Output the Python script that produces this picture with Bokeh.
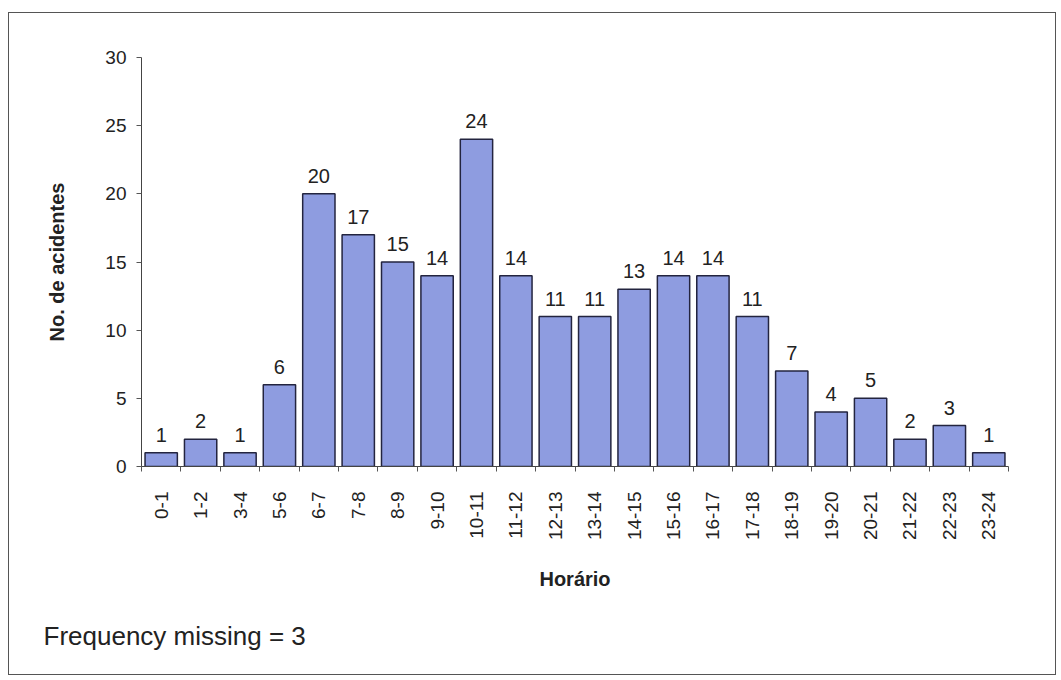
from bokeh.plotting import figure
from bokeh.models import ColumnDataSource, FixedTicker, Range1d, Title
from bokeh.embed import file_html
from bokeh.resources import INLINE
from bokeh.core.properties import value
import math

horarios = ["0-1", "1-2", "3-4", "5-6", "6-7", "7-8", "8-9", "9-10", "10-11", "11-12",
            "12-13", "13-14", "14-15", "15-16", "16-17", "17-18", "18-19", "19-20",
            "20-21", "21-22", "22-23", "23-24"]
acidentes = [1, 2, 1, 6, 20, 17, 15, 14, 24, 14, 11, 11, 13, 14, 14, 11, 7, 4, 5, 2, 3, 1]
y_ticks = [0, 5, 10, 15, 20, 25, 30]
x_title = "Horário"
y_title = "No. de acidentes"
note = "Frequency missing = 3"

n = len(horarios)
xs = [i + 0.5 for i in range(n)]
src = ColumnDataSource(dict(x=xs, top=acidentes, lab=[str(v) for v in acidentes]))

FONT = "Liberation Sans"
p = figure(width=1048, height=663, output_backend="svg", toolbar_location=None,
           x_range=Range1d(0, n), y_range=Range1d(0, 30),
           min_border_left=132, min_border_right=49, min_border_top=44, min_border_bottom=205)
p.styles = {"border": "1.5px solid #555555", "margin-left": "8px", "margin-top": "12px"}
p.outline_line_color = None
p.xgrid.visible = False
p.ygrid.visible = False

p.vbar(x="x", top="top", width=0.82, bottom=0, source=src,
       fill_color="#8e9ce0", line_color="#23243f", line_width=1.5)
p.text(x="x", y="top", text="lab", source=src, text_align="center", text_baseline="bottom",
       y_offset=-11, text_font=value(FONT), text_font_size="20px", text_color="#222222")

# x axis
p.xaxis.ticker = FixedTicker(ticks=xs, minor_ticks=list(range(n + 1)))
p.xaxis.major_label_overrides = {x: h for x, h in zip(xs, horarios)}
p.xaxis.major_label_orientation = math.pi / 2
p.xaxis.major_tick_line_color = None
p.xaxis.major_tick_out = 0
p.xaxis.major_tick_in = 0
p.xaxis.minor_tick_out = 5
p.xaxis.minor_tick_in = 0
p.xaxis.minor_tick_line_color = "#555555"
p.xaxis.major_label_standoff = 20
p.xaxis.major_label_text_font = FONT
p.xaxis.major_label_text_font_size = "19px"
p.xaxis.major_label_text_color = "#222222"
p.xaxis.axis_label = x_title
p.xaxis.axis_label_text_font = FONT
p.xaxis.axis_label_text_font_style = "bold"
p.xaxis.axis_label_text_font_size = "20px"
p.xaxis.axis_label_standoff = 25
p.xaxis.axis_label_text_color = "#222222"
p.xaxis.axis_line_color = "#444444"

# y axis
p.yaxis.ticker = FixedTicker(ticks=y_ticks, minor_ticks=[])
p.yaxis.major_tick_out = 5
p.yaxis.major_tick_in = 0
p.yaxis.major_tick_line_color = "#555555"
p.yaxis.major_label_standoff = 10
p.yaxis.major_label_text_font = FONT
p.yaxis.major_label_text_font_size = "19px"
p.yaxis.major_label_text_color = "#222222"
p.yaxis.axis_label = y_title
p.yaxis.axis_label_text_font = FONT
p.yaxis.axis_label_text_font_style = "bold"
p.yaxis.axis_label_text_font_size = "20px"
p.yaxis.axis_label_text_color = "#222222"
p.yaxis.axis_label_standoff = 34
p.yaxis.axis_line_color = "#444444"

p.add_layout(Title(text=note, align="left", offset=-98, standoff=51,
                   text_font=FONT, text_font_size="26px", text_font_style="normal",
                   text_color="#222222"), "below")

open("out.html", "w").write(file_html(p, INLINE))
